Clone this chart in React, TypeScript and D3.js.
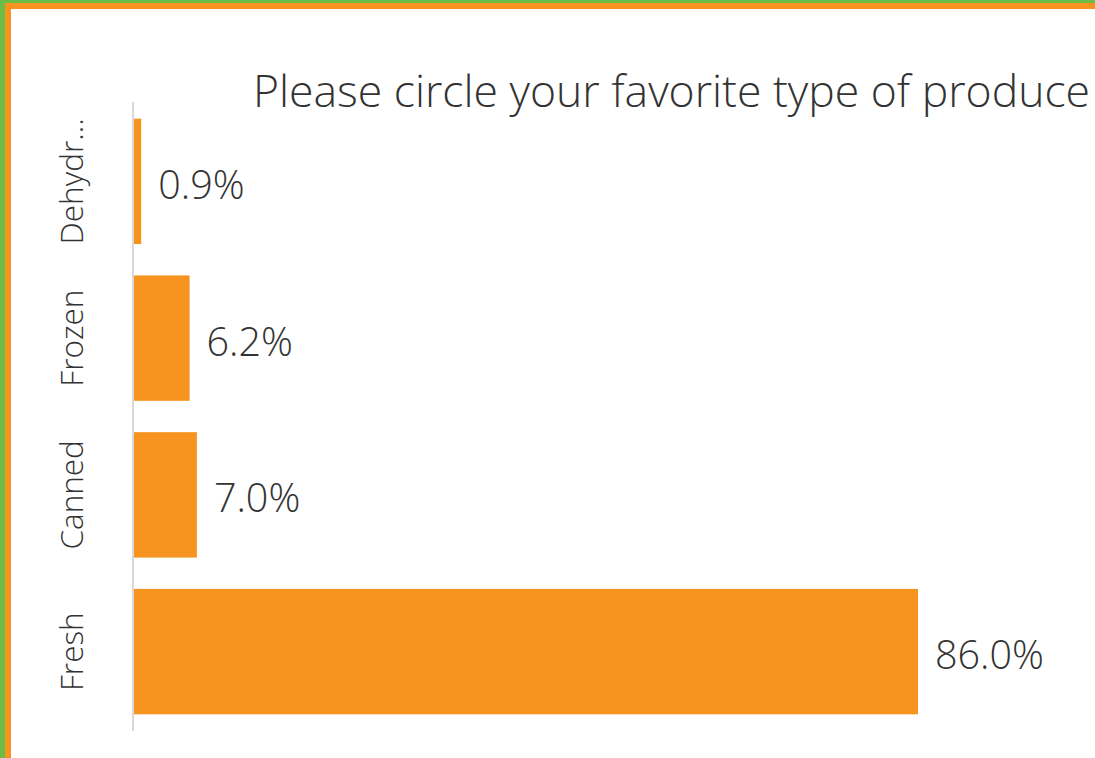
import React from "react";
import * as d3 from "d3";

const categories = ["Dehydr…", "Frozen", "Canned", "Fresh"];
const values = [0.9, 6.2, 7.0, 86.0];
const title = "Please circle your favorite type of produce";

const W = 1095;
const H = 758;
const ORANGE = "#F7941F";
const GREEN = "#6CBD45";
const TEXT = "#333333";
const FONT = "'Open Sans', 'Segoe UI', sans-serif";

export default function App() {
  const x0 = 133;
  const xScale = d3.scaleLinear().domain([0, 86]).range([x0, 918]);
  const yScale = d3
    .scaleBand<string>()
    .domain(categories)
    .range([103, 730])
    .paddingInner(0.2)
    .paddingOuter(0.1);

  return (
    <svg
      width={W}
      height={H}
      style={{ position: "absolute", left: 0, top: 0, background: "#fff" }}
    >
      <rect x={0} y={0} width={W} height={H} fill="#fff" />
      {/* border */}
      <rect x={0} y={0} width={W} height={3} fill={GREEN} />
      <rect x={0} y={0} width={5} height={H} fill={GREEN} />
      <rect x={5} y={3} width={W - 5} height={6} fill={ORANGE} />
      <rect x={5} y={3} width={6} height={H - 3} fill={ORANGE} />

      <text
        x={253}
        y={107}
        textAnchor="start"
        fontFamily={FONT}
        fontWeight={300}
        fontSize={44}
        fill={TEXT}
        textLength={837}
        lengthAdjust="spacingAndGlyphs"
      >
        {title}
      </text>

      {categories.map((c, i) => {
        const y = yScale(c)!;
        const bw = yScale.bandwidth();
        return (
          <g key={c}>
            <rect
              x={x0}
              y={y}
              width={xScale(values[i]) - x0}
              height={bw}
              fill={ORANGE}
            />
            <text
              x={xScale(values[i]) + 17}
              y={y + bw / 2}
              dy="0.44em"
              fontFamily={FONT}
              fontWeight={300}
              fontSize={39.5}
              fill={TEXT}
            >
              {values[i].toFixed(1) + "%"}
            </text>
            <text
              transform={`translate(${72},${y + bw / 2}) rotate(-90)`}
              textAnchor="middle"
              dy="0.35em"
              fontFamily={FONT}
              fontWeight={300}
              fontSize={31.5}
              fill={TEXT}
            >
              {c}
            </text>
          </g>
        );
      })}

      <line x1={x0} x2={x0} y1={102} y2={731} stroke="#D9D9D9" strokeWidth={2} />
    </svg>
  );
}
